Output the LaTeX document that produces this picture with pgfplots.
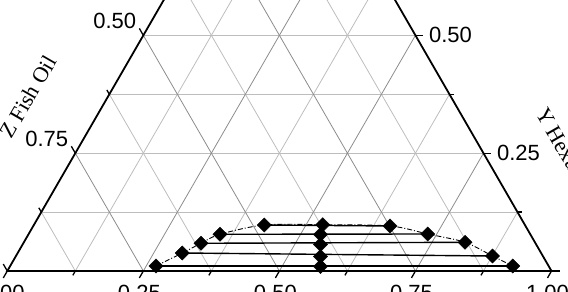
\documentclass[border=0pt]{standalone}
\usepackage{pgfplots}
\pgfplotsset{compat=1.18}
\usepackage{pgfplotstable}
\usepackage{fontspec}
\setmainfont{Liberation Sans}
\newfontfamily\titlefont{Liberation Serif}
\definecolor{gmaj}{gray}{0.55}
\definecolor{gmin}{gray}{0.74}

% ternary compositions: X (bottom axis), Y Hexane, Z Fish Oil = 1-X-Y
\pgfplotstableread{
X Y
0.2679 0.0106
0.3025 0.0382
0.3265 0.0588
0.3519 0.0779
0.4235 0.0976
0.5305 0.0983
0.6555 0.0955
0.7332 0.0785
0.8107 0.0609
0.8757 0.0318
0.9234 0.0106
}\binodal

\pgfplotstableread{
X Y
0.5368 0.0774
0.5474 0.0562
0.5601 0.0308
0.5707 0.0095
}\feed

\pgfplotsset{/pgfplots/table/tern/.style={/pgfplots/table/x expr=\thisrow{X}+0.5*\thisrow{Y},/pgfplots/table/y expr=0.8660254*\thisrow{Y}}}

\tikzset{
  tk/.style={black,line width=1.3bp},
  lblfont/.style={font=\fontsize{22bp}{25bp}\selectfont,inner sep=0pt},
  blbl/.style={lblfont,anchor=north,yshift=-7bp},
  llbl/.style={lblfont,anchor=base east,xshift=-2.5bp,yshift=-0.5bp},
  rlbl/.style={lblfont,anchor=west,xshift=5bp},
  gl/.style={line width=0.8bp},
}

\begin{document}
\begin{tikzpicture}
\useasboundingbox (0,0) rectangle (568bp,292bp);
\clip (0,0) rectangle (568bp,292bp);
\begin{axis}[
  at={(0,0)}, anchor=south west,
  hide axis, scale only axis,
  width=568bp, height=292bp,
  xmin=-0.013414, xmax=1.030320,
  ymin=-0.038589, ymax=0.497979,
  clip=false,
]
% minor grid
\draw[gmin,gl] (0.125,0) -- (0.5625,0.757772);
\draw[gmin,gl] (0.375,0) -- (0.6875,0.541266);
\draw[gmin,gl] (0.625,0) -- (0.8125,0.324760);
\draw[gmin,gl] (0.875,0) -- (0.9375,0.108253);
\draw[gmin,gl] (0.875,0) -- (0.4375,0.757772);
\draw[gmin,gl] (0.625,0) -- (0.3125,0.541266);
\draw[gmin,gl] (0.375,0) -- (0.1875,0.324760);
\draw[gmin,gl] (0.125,0) -- (0.0625,0.108253);
\draw[gmin,gl] (0.0625,0.108253) -- (0.9375,0.108253);
\draw[gmin,gl] (0.1875,0.324760) -- (0.8125,0.324760);
\draw[gmin,gl] (0.125,0.216506) -- (0.875,0.216506);
\draw[gmin,gl] (0.25,0.433013) -- (0.75,0.433013);
% major grid
\draw[gmaj,gl] (0.25,0) -- (0.625,0.649519);
\draw[gmaj,gl] (0.5,0) -- (0.75,0.433013);
\draw[gmaj,gl] (0.75,0) -- (0.875,0.216506);
\draw[gmaj,gl] (0.75,0) -- (0.375,0.649519);
\draw[gmaj,gl] (0.5,0) -- (0.25,0.433013);
\draw[gmaj,gl] (0.25,0) -- (0.125,0.216506);
% triangle
\draw[black,line width=1.8bp,line join=miter] (0,0) -- (1,0) -- (0.5,0.8660254) -- cycle;
% bottom ticks
\draw[tk] (0,0) -- ++(240:8bp) node[blbl]{0.00};
\draw[tk] (0.125,0) -- ++(240:5bp);
\draw[tk] (0.25,0) -- ++(240:8bp) node[blbl]{0.25};
\draw[tk] (0.375,0) -- ++(240:5bp);
\draw[tk] (0.5,0) -- ++(240:8bp) node[blbl]{0.50};
\draw[tk] (0.625,0) -- ++(240:5bp);
\draw[tk] (0.75,0) -- ++(240:8bp) node[blbl]{0.75};
\draw[tk] (0.875,0) -- ++(240:5bp);
\draw[tk] (1,0) -- ++(240:8bp) node[blbl]{1.00};
% left ticks (Z)
\draw[tk] (0,0) -- ++(120:8bp) node[llbl]{1.00};
\draw[tk] (0.0625,0.108253) -- ++(120:5bp);
\draw[tk] (0.125,0.216506) -- ++(120:8bp) node[llbl]{0.75};
\draw[tk] (0.1875,0.324760) -- ++(120:5bp);
\draw[tk] (0.25,0.433013) -- ++(120:8bp) node[llbl]{0.50};
% right ticks (Y)
\draw[tk] (1,0) -- ++(0:8bp);
\draw[tk] (0.9375,0.108253) -- ++(0:5bp);
\draw[tk] (0.875,0.216506) -- ++(0:8bp) node[rlbl]{0.25};
\draw[tk] (0.8125,0.324760) -- ++(0:5bp);
\draw[tk] (0.75,0.433013) -- ++(0:8bp) node[rlbl]{0.50};
% tie lines
\addplot[black,line width=1.4bp,no marks] table[tern,row sep=\\]{X Y\\0.2679 0.0106\\0.9234 0.0106\\};
\addplot[black,line width=1.4bp,no marks] table[tern,row sep=\\]{X Y\\0.3025 0.0382\\0.8757 0.0318\\};
\addplot[black,line width=1.4bp,no marks] table[tern,row sep=\\]{X Y\\0.3265 0.0588\\0.8107 0.0609\\};
\addplot[black,line width=1.4bp,no marks] table[tern,row sep=\\]{X Y\\0.3519 0.0779\\0.7332 0.0785\\};
\addplot[black,line width=1.4bp,no marks] table[tern,row sep=\\]{X Y\\0.4235 0.0976\\0.6555 0.0955\\};
% binodal curve
\addplot[black,line width=0.9bp,smooth,no marks,dash pattern=on 5bp off 2bp on 1bp off 2bp] table[tern]{\binodal};
% points
\addplot[only marks,mark=square*,mark size=5bp,mark options={rotate=45,fill=black,draw=black,line width=0.4bp}] table[tern]{\binodal};
\addplot[only marks,mark=square*,mark size=5bp,mark options={rotate=45,fill=black,draw=black,line width=0.4bp}] table[tern]{\feed};
\end{axis}
\node[font=\titlefont\fontsize{22bp}{25bp}\selectfont,rotate=60,inner sep=0pt] at (28bp,195bp) {Z Fish Oil};
\node[font=\titlefont\fontsize{22bp}{25bp}\selectfont,rotate=-60,inner sep=0pt,anchor=base west] at (535bp,179bp) {Y Hexane};
\end{tikzpicture}
\end{document}
